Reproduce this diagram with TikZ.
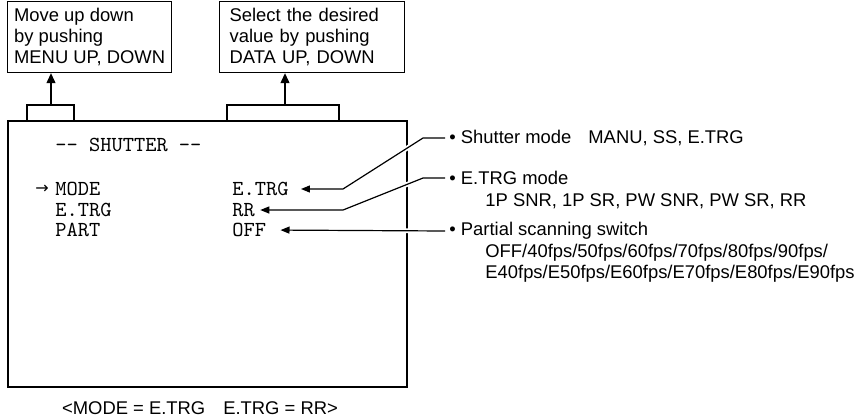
\documentclass[tikz,border=0pt]{standalone}
\usepackage{fontspec}
\setmainfont{Liberation Sans}
\newfontfamily\arrowfont{DejaVu Sans}
\usetikzlibrary{arrows.meta}
\tikzset{
  keybox/.style={draw, line width=0.6pt, anchor=north west, align=left,
    inner xsep=3pt, inner ysep=0pt, minimum height=35.5pt},
  screenbox/.style={draw, line width=1pt, anchor=north west, inner sep=0pt,
    minimum width=199.5pt, minimum height=133pt},
  osd/.style={font=\fontsize{10.7}{12}\ttfamily, anchor=west, inner sep=0pt},
  note/.style={anchor=west, inner sep=0pt},
  bracket/.style={line width=0.6pt},
  uparrow/.style={line width=0.6pt, -{Triangle[length=5pt, width=4.5pt]}},
  pointer/.style={line width=0.6pt, -{Triangle[length=4.5pt, width=3.5pt]},
    preaction={draw=white, line width=2.4pt, -, shorten >=10pt}},
}

\begin{document}
\begin{tikzpicture}[x=0.5pt, y=-0.5pt, font=\fontsize{9.2}{10.5}\selectfont]
  \useasboundingbox (0,0) rectangle (866,417);
  % key boxes
  \node[keybox, minimum width=82pt] (menukeys) at (7,1)
    {Move up down\\by pushing\\MENU UP, DOWN};
  \node[keybox, text width=82.5pt, inner xsep=5pt] (datakeys) at (219,1)
    {Select the desired\\value by pushing\\DATA UP, DOWN};
  % monitor screen
  \node[screenbox] (screen) at (7,120) {};
  \node[osd] (title) at (55,145) {-- SHUTTER --};
  \node[osd, font=\fontsize{8}{8}\arrowfont] (cursor) at (35,189) {→};
  \node[osd] (mode) at (55,189) {MODE};
  \node[osd] (trg) at (55,210) {E.TRG};
  \node[osd] (part) at (55,230) {PART};
  \node[osd] (modeval) at (232,189) {E.TRG};
  \node[osd] (trgval) at (232,210) {RR};
  \node[osd] (partval) at (232,230) {OFF};
  % brackets and arrows to the key boxes
  \coordinate (menutip) at ([xshift=22pt, yshift=7.5pt]screen.north west);
  \coordinate (datatip) at ([xshift=139pt, yshift=7.5pt]screen.north west);
  \draw[bracket] ([xshift=10pt]screen.north west)
    |- ([xshift=33.5pt, yshift=7.5pt]screen.north west)
    -- ([xshift=33.5pt]screen.north west);
  \draw[bracket] ([xshift=110pt]screen.north west)
    |- ([xshift=166pt, yshift=7.5pt]screen.north west)
    -- ([xshift=166pt]screen.north west);
  \draw[uparrow] (menutip) -- (menutip |- menukeys.south);
  \draw[uparrow] (datatip) -- (datatip |- datakeys.south);
  % notes on the right
  \node[note] (modenote) at (449,138) {• Shutter mode\hspace{8.5pt}MANU, SS, E.TRG};
  \node[note] (trgnote) at (449,178) {• E.TRG mode};
  \node[note] (trglist) at (485,201) {1P SNR, 1P SR, PW SNR, PW SR, RR};
  \node[note] (partnote) at (449,231) {• Partial scanning switch};
  \node[note] (partlist) at (485,253) {OFF/40fps/50fps/60fps/70fps/80fps/90fps/};
  \node[note] (partlistb) at (485,274) {E40fps/E50fps/E60fps/E70fps/E80fps/E90fps};
  \coordinate (modebend) at (343,189);
  \coordinate (trgbend) at (343,210);
  \draw[pointer, shorten >=6pt] ([xshift=-2pt]modenote.west) -- ++(-11pt,0)
    -- (modebend) -- (modeval.east);
  \draw[pointer, shorten >=2.5pt] ([xshift=-2pt]trgnote.west) -- ++(-11pt,0)
    -- (trgbend) -- (trgval.east);
  \draw[pointer, shorten >=7pt] ([xshift=-2pt]partnote.west) -- (partval.east);
  % caption
  \node (caption) at (200,408) {<MODE = E.TRG\hspace{9pt}E.TRG = RR>};
\end{tikzpicture}
\end{document}
